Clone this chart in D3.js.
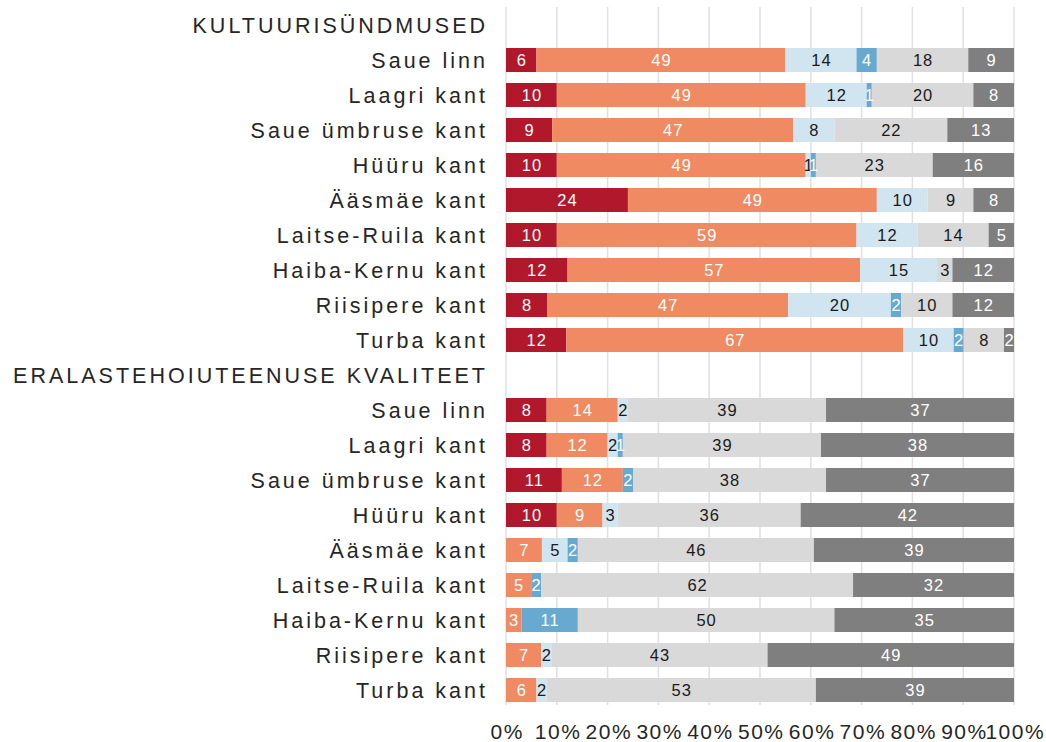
<!DOCTYPE html>
<html>
<head>
<meta charset="utf-8">
<script src="https://cdn.jsdelivr.net/npm/d3@7"></script>
<style>
  html, body { margin: 0; padding: 0; background: #fff; }
  svg { display: block; }
</style>
</head>
<body>
<svg id="chart" width="1046" height="742"></svg>
<script>
// ---------- data ----------
const groups = ["KULTUURISÜNDMUSED", "ERALASTEHOIUTEENUSE KVALITEET"];
const areas = ["Saue linn", "Laagri kant", "Saue ümbruse kant", "Hüüru kant", "Ääsmäe kant",
               "Laitse-Ruila kant", "Haiba-Kernu kant", "Riisipere kant", "Turba kant"];
const seriesKeys = ["s1", "s2", "s3", "s4", "s5", "s6"];
const seriesColors = ["#b2182b", "#ef8a62", "#d1e5f0", "#67a9cf", "#d9d9d9", "#7f7f7f"];
const labelColors = ["#ffffff", "#ffffff", "#1a1a1a", "#ffffff", "#1a1a1a", "#ffffff"];
// values: first 9 = KULTUURISÜNDMUSED, next 9 = ERALASTEHOIUTEENUSE KVALITEET
const s1 = [6, 10, 9, 10, 24, 10, 12, 8, 12,   8, 8, 11, 10, 0, 0, 0, 0, 0];
const s2 = [49, 49, 47, 49, 49, 59, 57, 47, 67, 14, 12, 12, 9, 7, 5, 3, 7, 6];
const s3 = [14, 12, 8, 1, 10, 12, 15, 20, 10,  2, 2, 0, 3, 5, 0, 0, 2, 2];
const s4 = [4, 1, 0, 1, 0, 0, 0, 2, 2,         0, 1, 2, 0, 2, 2, 11, 0, 0];
const s5 = [18, 20, 22, 23, 9, 14, 3, 10, 8,   39, 39, 38, 36, 46, 62, 50, 43, 53];
const s6 = [9, 8, 13, 16, 8, 5, 12, 12, 2,     37, 38, 37, 42, 39, 32, 35, 49, 39];
const tickValues = [0, 0.1, 0.2, 0.3, 0.4, 0.5, 0.6, 0.7, 0.8, 0.9, 1.0];

// ---------- build rows ----------
const seriesArrays = [s1, s2, s3, s4, s5, s6];
const rows = [];
groups.forEach((g, gi) => {
  rows.push({ id: "h" + gi, label: g, header: true });
  areas.forEach((a, ai) => {
    const idx = gi * areas.length + ai;
    const r = { id: "r" + idx, label: a, header: false };
    seriesKeys.forEach((k, si) => r[k] = seriesArrays[si][idx]);
    rows.push(r);
  });
});
const dataRows = rows.filter(r => !r.header);

// ---------- layout ----------
const svg = d3.select("#chart");
const x = d3.scaleLinear().domain([0, 1]).range([506, 1014]);
const pi = 11 / 35;
const y = d3.scaleBand().domain(rows.map(r => r.id)).range([7.5, 707.5])
  .paddingInner(pi).paddingOuter(pi / 2);

const font = "'Liberation Sans', Arial, Helvetica, sans-serif";
const textColor = "#262626";

// gridlines
svg.append("g").selectAll("line").data(tickValues).join("line")
  .attr("x1", d => x(d)).attr("x2", d => x(d))
  .attr("y1", 7).attr("y2", 705)
  .attr("stroke", "#e0e0e0").attr("stroke-width", 1.5);

// stacks
const stack = d3.stack().keys(seriesKeys).offset(d3.stackOffsetExpand);
const stacked = stack(dataRows);

const layers = svg.append("g").selectAll("g").data(stacked).join("g")
  .attr("fill", (d, i) => seriesColors[i]);
layers.selectAll("rect").data(d => d).join("rect")
  .attr("x", d => x(d[0]))
  .attr("width", d => Math.max(0, x(d[1]) - x(d[0])))
  .attr("y", d => y(d.data.id))
  .attr("height", y.bandwidth());

// data labels
const lbl = svg.append("g").attr("font-family", font).attr("font-size", 16.5)
  .attr("text-anchor", "middle");
stacked.forEach((layer, si) => {
  lbl.append("g").attr("fill", labelColors[si]).selectAll("text")
    .data(layer.filter(d => d.data[layer.key] > 0)).join("text")
    .attr("x", d => (x(d[0]) + x(d[1])) / 2 + 0.5)
    .attr("y", d => y(d.data.id) + y.bandwidth() / 2)
    .attr("dy", "0.36em")
    .attr("letter-spacing", 1)
    .text(d => d.data[layer.key]);
});

// category labels
const ls = 3.0;
svg.append("g").attr("font-family", font).attr("font-size", 21.5)
  .attr("fill", textColor).attr("text-anchor", "end")
  .selectAll("text").data(rows).join("text")
  .attr("x", 485 + ls)
  .attr("y", d => y(d.id) + y.bandwidth() / 2)
  .attr("dy", "0.36em")
  .attr("letter-spacing", ls)
  .text(d => d.label);

// x axis
const axis = svg.append("g").attr("transform", "translate(0,705)")
  .call(d3.axisBottom(x).tickValues(tickValues).tickFormat(d3.format(".0%"))
    .tickSize(0).tickPadding(19));
axis.select(".domain").remove();
axis.selectAll("text")
  .attr("font-family", font).attr("font-size", 21)
  .attr("fill", textColor)
  .attr("letter-spacing", 1.5)
  .attr("dx", 0.75);
</script>
</body>
</html>
